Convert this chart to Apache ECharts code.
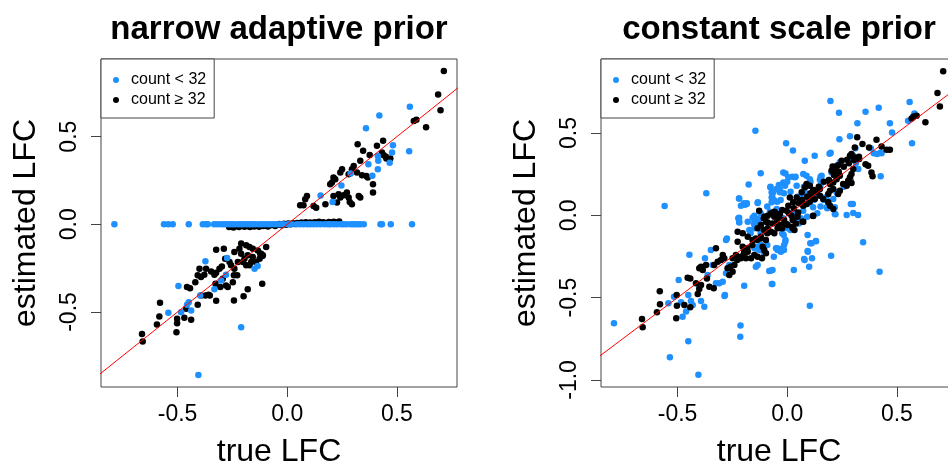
<!DOCTYPE html>
<html><head><meta charset="utf-8">
<script src="https://cdn.jsdelivr.net/npm/echarts@6/dist/echarts.min.js"></script>
<style>html,body{margin:0;padding:0;background:#fff}#c{width:948px;height:466px}</style>
</head><body><div id="c"></div>
<script>
const titles = ['narrow adaptive prior', 'constant scale prior'];
const legendNames = ['count < 32', 'count ≥ 32'];
const xName = 'true LFC';
const yName = 'estimated LFC';
const xTicks = [-0.5, 0, 0.5];
const yTicksLeft = [-0.5, 0, 0.5];
const yTicksRight = [-1, -0.5, 0, 0.5];
const xRange = [-0.849, 0.774];
const yRangeLeft = [-0.928, 0.943];
const yRangeRight = [-1.043, 0.950];
const refLine = [[-1.2, -1.2], [1.2, 1.2]];

// narrow adaptive prior, count < 32
const narrowLow = [
[-0.788,0],[-0.562,0],[-0.542,0],[-0.522,0],[-0.449,0],[-0.385,0],[-0.370,0],[-0.362,0],[-0.333,0],[-0.318,0],[-0.301,0],[-0.288,0],[-0.275,0],[-0.262,0],[-0.250,0],[-0.238,0],[-0.222,0],[-0.210,0],[-0.199,0],[-0.185,0],[-0.172,0],[-0.160,0],[-0.147,0],[-0.131,0],[-0.118,0],[-0.105,0],[-0.090,0],[-0.078,0],[-0.060,0],[-0.047,0],[-0.030,0],[-0.017,0],[0.005,0],[0.020,0],[0.044,0],[0.060,0],[0.075,0],[0.092,0],[0.105,0],[0.120,0],[0.135,0],[0.151,0],[0.170,0],[0.185,0],[0.196,0],[0.212,0],[0.227,0],[0.245,0],[0.257,0],[0.270,0],[0.288,0],[0.300,0],[0.311,0],[0.322,0],[0.333,0],[0.349,0],[0.425,0],[0.432,0],[0.472,0],[0.569,0],
[0.559,0.670],[0.420,0.621],[0.359,0.548],[0.482,0.451],[0.556,0.417],[0.478,0.410],[0.413,0.390],[0.415,0.362],[0.413,0.314],[0.467,0.351],[0.370,0.343],[0.388,0.277],[0.289,0.290],[0.247,0.221],[0.152,0.164],[0.207,0.128],
[-0.373,-0.211],[-0.496,-0.352],[-0.542,-0.505],[-0.484,-0.501],[-0.457,-0.459],[-0.449,-0.444],[-0.438,-0.491],[-0.397,-0.406],[-0.332,-0.371],[-0.301,-0.320],[-0.279,-0.287],[-0.274,-0.192],[-0.149,-0.253],[-0.135,-0.238],[-0.210,-0.587],[-0.405,-0.859]
];

// narrow adaptive prior, count >= 32
const narrowHigh = [
[0.714,0.874],[0.688,0.740],[0.699,0.651],[0.633,0.554],[0.577,0.590],[0.589,0.597],[0.437,0.476],[0.409,0.448],[0.321,0.457],[0.346,0.419],[0.376,0.396],[0.432,0.410],[0.452,0.375],[0.470,0.375],[0.333,0.362],[0.303,0.333],[0.295,0.314],[0.280,0.286],[0.250,0.314],[0.242,0.295],[0.211,0.267],[0.204,0.238],[0.196,0.229],[0.219,0.257],[0.318,0.295],[0.341,0.280],[0.361,0.276],[0.367,0.267],[0.391,0.229],[0.391,0.181],[0.234,0.171],[0.242,0.153],[0.257,0.166],[0.272,0.181],[0.280,0.153],[0.285,0.128],[0.326,0.162],[0.333,0.153],[0.211,0.162],[0.227,0.124],[0.295,0.114],[0.090,0.162],[0.082,0.143],[0.059,0.109],[0.074,0.109],[0.132,0.095],[0.120,0.105],[0.174,0.114],[0.440,0.394],[0.450,0.385],
[-0.662,-0.625],[-0.659,-0.669],[-0.594,-0.571],[-0.583,-0.526],[-0.580,-0.447],[-0.505,-0.615],[-0.502,-0.539],[-0.502,-0.564],[-0.469,-0.533],[-0.461,-0.482],[-0.438,-0.545],[-0.457,-0.358],[-0.443,-0.364],[-0.408,-0.459],[-0.393,-0.406],[-0.373,-0.406],[-0.353,-0.406],[-0.419,-0.330],[-0.408,-0.291],[-0.393,-0.301],[-0.378,-0.287],[-0.400,-0.253],[-0.370,-0.253],[-0.347,-0.269],[-0.359,-0.402],[-0.324,-0.436],[-0.327,-0.339],[-0.305,-0.358],[-0.294,-0.310],[-0.279,-0.349],[-0.332,-0.287],[-0.324,-0.276],[-0.309,-0.253],[-0.298,-0.240],[-0.324,-0.145],[-0.289,-0.139],[-0.283,-0.196],[-0.263,-0.215],[-0.243,-0.291],[-0.248,-0.330],[-0.228,-0.291],[-0.256,-0.234],[-0.241,-0.253],[-0.225,-0.215],[-0.199,-0.411],[-0.180,-0.371],[-0.241,-0.158],[-0.218,-0.139],[-0.210,-0.110],[-0.187,-0.120],[-0.172,-0.130],[-0.210,-0.168],[-0.195,-0.196],[-0.180,-0.177],[-0.164,-0.215],[-0.157,-0.187],[-0.142,-0.215],[-0.202,-0.215],[-0.187,-0.234],[-0.172,-0.234],[-0.157,-0.139],[-0.134,-0.149],[-0.126,-0.196],[-0.119,-0.168],[-0.111,-0.177],[-0.096,-0.130],[-0.114,-0.339],[-0.123,-0.168],[-0.113,-0.181],[-0.243,-0.434],[-0.271,-0.358],
[-0.265,-0.015],[-0.255,-0.012],[-0.245,-0.018],[-0.232,-0.010],[-0.220,-0.015],[-0.205,-0.008],[-0.195,-0.014],[-0.182,-0.010],[-0.170,-0.016],[-0.160,-0.006],[-0.150,-0.012],[-0.140,-0.008],[-0.128,-0.014],[-0.118,-0.005],[-0.108,-0.010],[-0.098,-0.004],[-0.088,-0.012],[-0.076,-0.006],[-0.065,-0.002],[-0.055,-0.009],[-0.045,-0.003],[-0.035,0.002],[-0.025,-0.006],[-0.015,0.003],[-0.005,-0.002],[0.005,0.004],[0.015,0.000],[0.025,0.006],[0.035,0.002],[0.045,0.008],[0.055,0.003],[0.065,0.010],[0.075,0.005],[0.085,0.012],[0.095,0.006],[0.105,0.010],[0.115,0.004],[0.125,0.012],[0.135,0.007],[0.145,0.014],[0.155,0.008],[0.165,0.012],[0.178,0.006],[0.190,0.013],[0.200,0.009],[0.212,0.015],[0.225,0.010],[0.237,0.016]
];

// constant scale prior, count < 32
const constLow = [
[-0.790,-0.656],[-0.559,0.057],[-0.535,-0.862],[-0.451,-0.765],[-0.405,-0.969],[-0.369,0.134],[-0.446,-0.239],[-0.495,-0.393],[-0.516,-0.494],[-0.542,-0.534],[-0.286,-0.490],[-0.213,-0.670],[-0.214,-0.737],[-0.196,-0.428],[-0.145,0.514],[-0.121,0.256],[-0.176,0.188],[-0.220,0.103],[-0.197,0.073],[-0.185,0.069],[-0.134,0.079],[-0.076,-0.336],[-0.068,-0.417],[-0.005,0.438],[0.026,0.394],[0.030,-0.332],[0.079,-0.271],[0.103,-0.550],[0.094,-0.221],[0.111,-0.170],[0.131,-0.157],[0.080,0.332],[0.125,0.362],[0.197,0.695],[0.236,0.624],[0.200,-0.246],[0.198,0.380],[0.193,0.375],[0.238,0.462],[0.286,0.481],[0.320,0.560],[0.357,0.630],[0.346,-0.164],[0.417,0.654],[0.421,-0.342],[0.468,0.560],[0.426,0.238],[0.558,0.688],[0.569,0.438],[0.580,0.619],[0.551,0.575],[0.574,0.600],[0.299,0.069],[0.271,0.002],[0.323,0.002],[0.220,0.006],[0.311,0.407],[0.381,0.407],[0.395,0.378],[0.410,0.372],[0.425,0.381],[0.430,0.378],[0.478,0.504],[0.290,0.069],[0.217,0.008],
[-0.018,0.261],[0.005,0.231],[0.035,0.231],[-0.018,0.200],[-0.010,0.180],[-0.048,0.160],[-0.064,0.140],[-0.033,0.140],[0.043,0.180],[0.073,0.251],[0.088,0.240],[0.103,0.220],[0.157,0.240],[0.149,0.216],[0.202,0.261],[0.225,0.301],[0.240,0.322],[0.286,0.342],[0.301,0.362],[0.313,0.318],[0.324,0.281],[0.225,0.140],[0.210,0.099],[0.217,0.049],[0.172,0.109],[0.096,0.099],[0.073,0.119],[0.118,0.049],[0.180,0.049],[0.301,0.014],[0.035,0.018],[0.073,0.028],[-0.071,0.079],[-0.048,0.038],[-0.018,-0.018],[0.027,-0.027],
[-0.077,0.170],[-0.071,0.140],[-0.071,0.109],[-0.219,0.103],[-0.211,0.058],[-0.193,0.064],[-0.184,0.073],[-0.135,0.075],[-0.223,-0.018],[-0.219,-0.043],[-0.150,-0.002],[-0.135,-0.022],[-0.143,-0.043],
[-0.484,-0.528],[-0.451,-0.484],[-0.439,-0.520],[-0.431,-0.545],[-0.461,-0.585],[-0.477,-0.616],[-0.393,-0.520],[-0.378,-0.555],[-0.401,-0.434],[-0.363,-0.362],[-0.340,-0.302],[-0.375,-0.261],[-0.348,-0.211],[-0.325,-0.413],[-0.310,-0.413],[-0.294,-0.403],[-0.284,-0.484],[-0.279,-0.352],[-0.264,-0.302],[-0.275,-0.140],[-0.279,-0.150],[-0.143,-0.312],[-0.135,-0.302],[-0.135,-0.191],[-0.150,-0.200],[-0.120,-0.180],[-0.128,-0.211],[-0.082,-0.338],[-0.067,-0.332],[-0.070,-0.417],[-0.051,-0.200],[-0.044,-0.211],[-0.021,-0.200],[-0.029,-0.221],[-0.014,-0.180],[-0.009,-0.160],[-0.016,-0.120],[0.077,-0.265],[0.100,-0.312],[0.113,-0.261],[0.131,-0.156],[0.093,-0.217],[0.105,-0.170],[0.093,-0.120],[0.002,-0.079],[0.032,-0.029],[0.062,-0.018],[-0.173,-0.089],[-0.150,-0.079],[-0.180,-0.039],[-0.219,-0.039],[-0.219,-0.015],[-0.158,-0.015],
[0.091,0.069],[0.121,0.093],[0.152,0.053],[0.182,0.043],[0.084,0.134],[0.152,0.184],[0.152,0.235],[0.190,0.215],[-0.038,0.184],[-0.033,0.154],[-0.076,0.174],[-0.068,0.113],[-0.008,0.255],[0.023,0.235],[0.038,0.235],[0.000,0.204],[-0.046,0.083],[-0.030,0.093],[-0.079,0.022],[-0.106,-0.008],[-0.129,-0.028],[-0.121,-0.109],[-0.106,-0.089],[-0.046,-0.200],[-0.030,-0.206],[-0.015,-0.210],[-0.008,-0.150],[-0.091,-0.180],
[-0.061,0.093],[-0.015,0.134],[0.015,0.144],[0.046,0.113],[0.076,0.174],[0.106,0.204],[0.137,0.134],[0.167,0.093],[-0.091,0.053],[-0.121,0.012],[-0.152,-0.049],[-0.167,-0.109],[-0.144,-0.200],[-0.106,-0.231],[-0.061,-0.251],[-0.023,-0.109],[0.015,-0.089],[0.053,-0.049],[0.091,-0.008],[0.137,0.012],[0.182,0.093],[0.228,0.134],[0.258,0.174],[0.289,0.215]
];

// constant scale prior, count >= 32
const constHigh = [
[0.711,0.876],[0.685,0.743],[0.696,0.662],[0.630,0.565],[0.567,0.589],[0.577,0.601],[0.590,0.605],[0.319,0.474],[0.343,0.433],[0.373,0.413],[0.407,0.459],[0.430,0.419],[0.453,0.398],[0.468,0.398],[0.308,0.413],[0.293,0.372],[0.308,0.352],[0.328,0.342],[0.357,0.311],[0.369,0.301],[0.384,0.261],[0.389,0.237],[0.273,0.338],[0.286,0.362],[0.248,0.331],[0.232,0.305],[0.217,0.291],[0.207,0.297],[0.202,0.271],[0.225,0.271],[0.301,0.281],[0.293,0.251],[0.286,0.231],[0.278,0.210],[0.255,0.190],[0.271,0.180],[0.293,0.196],[0.195,0.190],[0.210,0.200],[0.225,0.220],[0.240,0.240],[0.240,0.149],[0.232,0.129],[0.210,0.160],[0.187,0.129],[0.195,0.149],[0.149,0.160],[0.134,0.140],[0.118,0.149],[0.088,0.190],[0.103,0.180],[0.081,0.170],[0.149,0.119],[0.164,0.099],[0.187,0.079],[0.210,0.038],[0.195,0.058],[0.111,0.119],[0.126,0.099],[0.103,0.083],[0.088,0.069],[0.073,0.058],[0.058,0.089],[0.043,0.109],[0.066,0.140],[0.012,0.109],[0.027,0.079],[0.005,0.058],[-0.003,0.028],[0.020,-0.002],[0.050,0.018],[-0.033,0.008],[-0.056,0.018],[-0.048,-0.043],[0.073,-0.039],[0.118,-0.002],
[-0.662,-0.630],[-0.659,-0.680],[-0.594,-0.589],[-0.580,-0.540],[-0.581,-0.461],[-0.506,-0.625],[-0.503,-0.549],[-0.504,-0.484],[-0.469,-0.545],[-0.442,-0.559],[-0.454,-0.379],[-0.442,-0.383],[-0.408,-0.478],[-0.401,-0.448],[-0.393,-0.423],[-0.416,-0.413],[-0.401,-0.322],[-0.393,-0.312],[-0.385,-0.332],[-0.370,-0.302],[-0.366,-0.383],[-0.355,-0.434],[-0.335,-0.443],[-0.325,-0.200],[-0.317,-0.282],[-0.333,-0.302],[-0.302,-0.271],[-0.294,-0.241],[-0.287,-0.261],[-0.272,-0.322],[-0.264,-0.362],[-0.249,-0.342],[-0.241,-0.302],[-0.249,-0.261],[-0.234,-0.241],[-0.226,-0.160],[-0.203,-0.191],[-0.196,-0.211],[-0.180,-0.221],[-0.211,-0.261],[-0.188,-0.261],[-0.165,-0.261],[-0.226,-0.100],[-0.203,-0.109],[-0.180,-0.130],[-0.158,-0.150],[-0.143,-0.140],[-0.120,-0.130],[-0.097,-0.150],[-0.112,-0.191],[-0.105,-0.211],[-0.097,-0.231],[-0.115,-0.261],[-0.135,-0.251],[-0.150,-0.241],[-0.135,-0.079],[-0.120,-0.059],[-0.097,-0.039],[-0.089,-0.079],[-0.074,-0.100],[-0.059,-0.109],[-0.044,-0.079],[-0.067,-0.049],[-0.029,-0.059],[-0.014,-0.029],[0.002,-0.059],[0.025,-0.079],[0.040,-0.049],[0.025,-0.029],[0.047,-0.009],[0.070,-0.039],[-0.059,-0.009],[-0.105,-0.009],
[-0.128,0.028],[-0.107,-0.018],[-0.089,-0.002],[-0.074,0.012],[-0.059,0.022],[-0.089,-0.043],
[0.023,-0.069],[0.033,-0.089],[-0.003,-0.053],[-0.023,-0.079],[0.118,-0.004],
[-0.053,0.012],[-0.038,-0.018],[-0.023,0.032],[0.008,0.012],[0.030,0.043],[0.053,0.073],[0.068,0.093],[0.091,0.113],[0.106,0.134],[0.121,0.154],[0.144,0.174],[0.167,0.204],[0.190,0.215],[0.213,0.245],[0.235,0.265],[0.258,0.296],[0.281,0.316],[0.304,0.336],[0.327,0.356],[-0.106,-0.089],[-0.091,-0.109],[-0.121,-0.140],[-0.137,-0.150],[-0.159,-0.180],[-0.182,-0.200],[-0.197,-0.231],[-0.213,-0.251],[-0.228,-0.271],[-0.258,-0.312]
];

const FONT = '"Liberation Sans", Arial, Helvetica, sans-serif';
const BLUE = '#1E90FF';
const fmt = v => Number(v).toFixed(1);

function makeX(gi) {
  return {
    type: 'value', gridIndex: gi, min: xRange[0], max: xRange[1],
    axisLine: { show: false, onZero: false }, splitLine: { show: false },
    axisTick: { show: true, length: 10, customValues: xTicks, lineStyle: { color: '#444', width: 1 } },
    axisLabel: { customValues: xTicks, formatter: fmt, fontSize: 23, color: '#000', fontFamily: FONT, margin: 16 },
    name: xName, nameLocation: 'middle', nameGap: 49,
    nameTextStyle: { fontSize: 32, fontFamily: FONT, color: '#000' }
  };
}
function makeY(gi, range, ticks) {
  return {
    type: 'value', gridIndex: gi, min: range[0], max: range[1],
    axisLine: { show: false, onZero: false }, splitLine: { show: false },
    axisTick: { show: true, length: 10, customValues: ticks, lineStyle: { color: '#444', width: 1 } },
    axisLabel: { customValues: ticks, formatter: fmt, fontSize: 23, color: '#000', fontFamily: FONT, margin: 20, rotate: 90 },
    name: yName, nameLocation: 'middle', nameGap: 59,
    nameTextStyle: { fontSize: 32, fontFamily: FONT, color: '#000' }
  };
}
function makeLegend(left) {
  return {
    left: left, top: 59, orient: 'vertical', data: legendNames, icon: 'circle',
    itemWidth: 6, itemHeight: 6, itemGap: 4, padding: [13, 8, 10, 12],
    backgroundColor: '#fff', borderColor: '#444', borderWidth: 1, borderRadius: 0,
    selectedMode: false, z: 10,
    textStyle: { fontSize: 16, lineHeight: 16, fontFamily: FONT, color: '#000', padding: [0, 0, 0, 7] }
  };
}
function scatter(gi, name, data, color, z) {
  return { type: 'scatter', name: name, xAxisIndex: gi, yAxisIndex: gi, data: data,
    symbol: 'circle', symbolSize: 6.5, itemStyle: { color: color, opacity: 1 }, z: z, silent: true };
}
function ref(gi) {
  return { type: 'line', xAxisIndex: gi, yAxisIndex: gi, data: refLine, symbol: 'none', clip: true,
    lineStyle: { color: '#ff0000', width: 1 }, z: 5, silent: true };
}

const chart = echarts.init(document.getElementById('c'), null, { renderer: 'canvas' });
chart.setOption({
  animation: false,
  backgroundColor: '#fff',
  title: [
    { text: titles[0], left: 279, top: 13, textAlign: 'center', padding: 0,
      textStyle: { fontSize: 33, fontWeight: 'bold', fontFamily: FONT, color: '#000' } },
    { text: titles[1], left: 779, top: 13, textAlign: 'center', padding: 0,
      textStyle: { fontSize: 33, fontWeight: 'bold', fontFamily: FONT, color: '#000' } }
  ],
  legend: [makeLegend(101), makeLegend(601)],
  grid: [
    { left: 101, top: 59, width: 356, height: 328, show: true, borderColor: '#444', borderWidth: 1, backgroundColor: 'transparent', outerBoundsMode: 'none', containLabel: false },
    { left: 601, top: 59, width: 356, height: 328, show: true, borderColor: '#444', borderWidth: 1, backgroundColor: 'transparent', outerBoundsMode: 'none', containLabel: false }
  ],
  xAxis: [makeX(0), makeX(1)],
  yAxis: [makeY(0, yRangeLeft, yTicksLeft), makeY(1, yRangeRight, yTicksRight)],
  series: [
    scatter(0, legendNames[1], narrowHigh, '#000', 2),
    scatter(0, legendNames[0], narrowLow, BLUE, 3),
    ref(0),
    scatter(1, legendNames[0], constLow, BLUE, 2),
    scatter(1, legendNames[1], constHigh, '#000', 3),
    ref(1)
  ]
});
</script></body></html>
